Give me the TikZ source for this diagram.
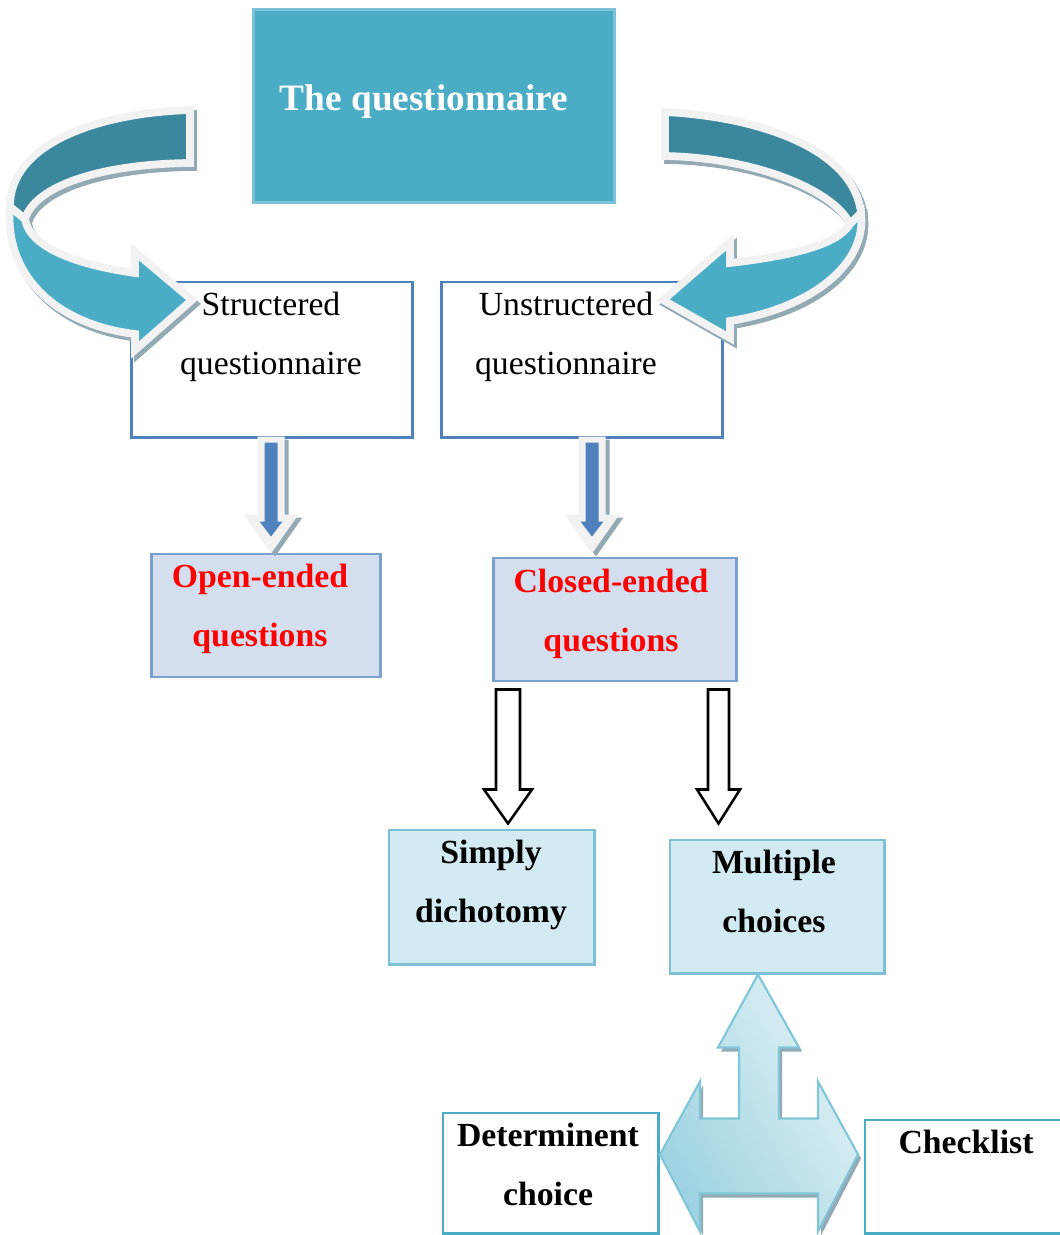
\documentclass[tikz,border=0pt]{standalone}
\usepackage{fontspec}
\setmainfont{Liberation Serif}
\usetikzlibrary{positioning}

\definecolor{qteal}{HTML}{4BACC6}
\definecolor{qtealline}{HTML}{7CC2D6}
\definecolor{qdark}{HTML}{3B889E}
\definecolor{ribbonline}{HTML}{F2F2F2}
\definecolor{shadowgray}{HTML}{93A9B3}
\definecolor{structline}{HTML}{4F81BD}
\definecolor{openfill}{HTML}{D3DFEE}
\definecolor{openline}{HTML}{7BA0CD}
\definecolor{simplyfill}{HTML}{D2EAF1}
\definecolor{simplyline}{HTML}{7CC1D5}
\definecolor{threeleft}{HTML}{9ED3E1}
\definecolor{threeright}{HTML}{E2F2F6}
\definecolor{threeline}{HTML}{80C6D8}

\tikzset{
  box/.style={draw, line width=2.1pt, inner sep=0pt},
  txt/.style={font=\fontsize{24}{42}\selectfont, align=center, inner sep=0pt},
  boldtxt/.style={font=\fontsize{24}{42}\selectfont\bfseries, align=center, inner sep=0pt},
  ribbon/.style={line width=5.5pt, line join=miter},
  outlinearrow/.style={draw=black, fill=white, line width=1.8pt},
}

% ribbon paths, in px of the picture
\def\leftback{(190,110) .. controls (95,113) and (9,145) .. (10,207) -- (25,219) .. controls (35,186) and (100,164) .. (190,163) -- cycle}
\def\leftfront{(10,207) .. controls (4,272) and (52,324) .. (135,334) -- (135,350) -- (192,300) -- (135,252) -- (135,273) .. controls (85,266) and (30,250) .. (25,219) -- cycle}
\def\rightback{(665,112) .. controls (762,117) and (854,150) .. (861,213) -- (850,224) .. controls (835,192) and (760,158) .. (665,156) -- cycle}
\def\rightfront{(861,213) .. controls (867,264) and (812,308) .. (730,321) -- (730,338) -- (663,300) -- (730,242) -- (730,263) .. controls (790,256) and (838,245) .. (850,224) -- cycle}

\begin{document}
\begin{tikzpicture}[x=0.025cm, y=-0.025cm]
  \useasboundingbox (0,0) rectangle (1059,1235);

  % boxes
  \node[box, fill=qteal, draw=qtealline, minimum width=9cm, minimum height=4.8cm] (quest) at (434,106) {};
  \node[box, draw=structline, minimum width=7cm, minimum height=3.875cm] (struct) at (272,359.5) {};
  \node[box, draw=structline, minimum width=7cm, minimum height=3.875cm] (unstruct) at (582,359.5) {};
  \node[box, fill=openfill, draw=openline, minimum width=5.7cm, minimum height=3.075cm] (open) at (266,615.5) {};
  \node[box, fill=openfill, draw=openline, minimum width=6.05cm, minimum height=3.075cm] (closed) at (615,619.5) {};
  \node[box, fill=simplyfill, draw=simplyline, minimum width=5.125cm, minimum height=3.35cm] (simply) at (491.5,897) {};
  \node[box, fill=simplyfill, draw=simplyline, minimum width=5.35cm, minimum height=3.325cm] (multiple) at (777,906.5) {};
  \node[box, draw=qteal, minimum width=5.375cm, minimum height=3cm] (determ) at (550.5,1173) {};
  \node[box, draw=qteal, minimum width=5.25cm, minimum height=2.825cm] (check) at (970,1176.5) {};

  % curved ribbons from the questionnaire
  \begin{scope}[shift={(3,4)}]
    \filldraw[ribbon, shadowgray] \leftback;
    \filldraw[ribbon, shadowgray] \leftfront;
    \filldraw[ribbon, shadowgray] \rightback;
    \filldraw[ribbon, shadowgray] \rightfront;
  \end{scope}
  \filldraw[ribbon, fill=qdark, draw=ribbonline] \leftback;
  \filldraw[ribbon, fill=qteal, draw=ribbonline] \leftfront;
  \filldraw[ribbon, fill=qdark, draw=ribbonline] \rightback;
  \filldraw[ribbon, fill=qteal, draw=ribbonline] \rightfront;

  % blue arrows under the two questionnaires
  \begin{scope}[shift={(struct.south)}]
    \fill[shadowgray] (-10.5,1) -- (16.5,1) -- (16.5,79) -- (30.5,79) -- (3,118) -- (-24.5,79) -- (-10.5,79) -- cycle;
    \fill[ribbonline] (-14.5,-2) -- (12.5,-2) -- (12.5,76) -- (26.5,76) -- (-1,115) -- (-28.5,76) -- (-14.5,76) -- cycle;
    \fill[structline] (-7.5,4) -- (5.5,4) -- (5.5,83) -- (10.5,83) -- (-1,98) -- (-12.5,83) -- (-7.5,83) -- cycle;
  \end{scope}
  \begin{scope}[shift={(unstruct.south)}]
    \fill[shadowgray] (0.5,1) -- (27.5,1) -- (27.5,79) -- (41.5,79) -- (14,118) -- (-13.5,79) -- (0.5,79) -- cycle;
    \fill[ribbonline] (-3.5,-2) -- (23.5,-2) -- (23.5,76) -- (37.5,76) -- (10,115) -- (-17.5,76) -- (-3.5,76) -- cycle;
    \fill[structline] (3.5,4) -- (16.5,4) -- (16.5,83) -- (21.5,83) -- (10,98) -- (-1.5,83) -- (3.5,83) -- cycle;
  \end{scope}

  % outline arrows under closed-ended questions
  \begin{scope}[shift={(closed.south)}]
    \draw[outlinearrow] (-119,7) -- (-95,7) -- (-95,107) -- (-83,107) -- (-107,141) -- (-131,107) -- (-119,107) -- cycle;
    \draw[outlinearrow] (93,7) -- (114,7) -- (114,107) -- (125,107) -- (103.5,141) -- (82,107) -- (93,107) -- cycle;
  \end{scope}

  % three-way arrow under multiple choices
  \begin{scope}[shift={(multiple.south)}]
    \fill[shadowgray] (-16,4) -- (25,77) -- (5,77) -- (5,148) -- (44,148) -- (44,111) -- (84,184) -- (44,261) -- (44,223)
      -- (-74,223) -- (-74,261) -- (-114,184) -- (-74,111) -- (-74,148) -- (-35,148) -- (-35,77) -- (-56,77) -- cycle;
    \draw[threeline, line width=1.5pt, left color=threeleft, right color=threeright, shading angle=120]
      (-19,0) -- (22,73) -- (2,73) -- (2,144) -- (41,144) -- (41,107) -- (81,180) -- (41,257) -- (41,219)
      -- (-77,219) -- (-77,257) -- (-117,180) -- (-77,107) -- (-77,144) -- (-38,144) -- (-38,73) -- (-59,73) -- cycle;
  \end{scope}

  % texts
  \node[font=\fontsize{26.5}{30}\selectfont\bfseries, text=white, anchor=base, inner sep=0pt] (questlbl) at (424,111) {The questionnaire};
  \node[txt] (structlbl) at (271,337) {Structered\\questionnaire};
  \node[txt] (unstructlbl) at (566,337) {Unstructered\\questionnaire};
  \node[boldtxt, text=red] (openlbl) at (260,608.5) {Open-ended\\questions};
  \node[boldtxt, text=red] (closedlbl) at (611,613.5) {Closed-ended\\questions};
  \node[boldtxt] (simplylbl) at (491,884.5) {Simply\\dichotomy};
  \node[boldtxt] (multiplelbl) at (774,891) {Multiple\\choices};
  \node[boldtxt] (determlbl) at (548,1164) {Determinent\\choice};
  \node[boldtxt, anchor=base] (checklbl) at (966,1153) {Checklist};
\end{tikzpicture}
\end{document}
